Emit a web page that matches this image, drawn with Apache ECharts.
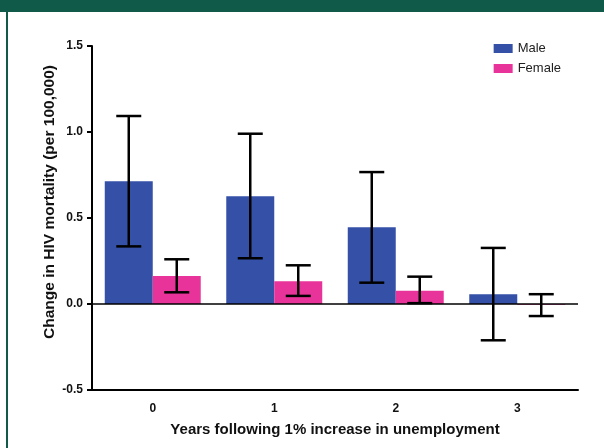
<!DOCTYPE html>
<html><head><meta charset="utf-8">
<script src="https://cdn.jsdelivr.net/npm/echarts@6/dist/echarts.min.js"></script>
<style>html,body{margin:0;padding:0;background:#fff}#c{width:604px;height:448px}</style>
</head><body><div id="c"></div>
<script>
var categories = ['0', '1', '2', '3'];
var maleValues = [0.713, 0.626, 0.446, 0.057];
var maleLow = [0.335, 0.266, 0.124, -0.211];
var maleHigh = [1.093, 0.990, 0.767, 0.326];
var femaleValues = [0.163, 0.132, 0.077, -0.004];
var femaleLow = [0.068, 0.047, 0.005, -0.070];
var femaleHigh = [0.260, 0.225, 0.159, 0.057];
var yTicks = [-0.5, 0.0, 0.5, 1.0, 1.5];

var GAP = 0.21;
function errSeries(low, high, side) {
  return {
    type: 'custom', silent: true, z: 10,
    data: categories.map(function (c, i) { return [i, low[i], high[i]]; }),
    encode: {x: 0, y: [1, 2]},
    renderItem: function (params, api) {
      var band = api.size([1, 0])[0];
      var off = side * band * (1 - GAP) / 4;
      var lo = api.coord([api.value(0), api.value(1)]);
      var hi = api.coord([api.value(0), api.value(2)]);
      var x = lo[0] + off, hw = 12.5;
      var st = {stroke: '#000', lineWidth: 2.5};
      return {type: 'group', children: [
        {type: 'line', shape: {x1: x, y1: lo[1], x2: x, y2: hi[1]}, style: st},
        {type: 'line', shape: {x1: x - hw, y1: lo[1], x2: x + hw, y2: lo[1]}, style: st},
        {type: 'line', shape: {x1: x - hw, y1: hi[1], x2: x + hw, y2: hi[1]}, style: st}
      ]};
    }
  };
}

var chart = echarts.init(document.getElementById('c'));
chart.setOption({
  animation: false,
  textStyle: {fontFamily: 'Liberation Sans, Arial, sans-serif'},
  graphic: [
    {type: 'rect', shape: {x: 0, y: 0, width: 604, height: 12}, style: {fill: '#0F5A48'}},
    {type: 'rect', shape: {x: 6, y: 0, width: 2, height: 448}, style: {fill: '#0F5A48'}}
  ],
  grid: {left: 92, right: 26, top: 46, bottom: 58},
  legend: {
    right: 38, top: 37, orient: 'vertical', itemWidth: 19, itemHeight: 9, itemGap: 7,
    icon: 'rect',
    textStyle: {fontSize: 13, color: '#222', fontFamily: 'Liberation Sans, Arial, sans-serif'},
    data: ['Male', 'Female']
  },
  xAxis: {
    type: 'category', data: categories,
    name: 'Years following 1% increase in unemployment', nameLocation: 'middle', nameGap: 32,
    nameMoveOverlap: false,
    nameTextStyle: {fontSize: 15, fontWeight: 'bold', color: '#111'},
    axisLine: {onZero: false, lineStyle: {color: '#000', width: 2}},
    axisTick: {alignWithLabel: true, length: 5, lineStyle: {color: '#000', width: 2}},
    axisLabel: {fontSize: 12, fontWeight: 'bold', color: '#111', margin: 13}
  },
  yAxis: {
    type: 'value', min: -0.5, max: 1.5, interval: 0.5,
    name: 'Change in HIV mortality (per 100,000)', nameLocation: 'middle', nameGap: 34,
    nameMoveOverlap: false,
    nameTextStyle: {fontSize: 15.5, fontWeight: 'bold', color: '#111', padding: [0, 0, 0, 32]},
    axisLine: {show: true, lineStyle: {color: '#000', width: 2}},
    axisTick: {show: true, length: 5, lineStyle: {color: '#000', width: 2}},
    splitLine: {show: false},
    axisLabel: {fontSize: 12, fontWeight: 'bold', color: '#111', margin: 9,
      formatter: function (v) { return v.toFixed(1); }}
  },
  series: [
    {name: 'Male', type: 'bar', data: maleValues, barGap: '0%', barCategoryGap: (GAP * 100) + '%',
     itemStyle: {color: '#3451A7'},
     markLine: {silent: true, symbol: 'none', label: {show: false},
       lineStyle: {color: '#000', width: 1.5, type: 'solid'}, data: [{yAxis: 0}]}},
    {name: 'Female', type: 'bar', data: femaleValues, itemStyle: {color: '#E8349A'}},
    errSeries(maleLow, maleHigh, -1),
    errSeries(femaleLow, femaleHigh, 1)
  ]
});
</script></body></html>
